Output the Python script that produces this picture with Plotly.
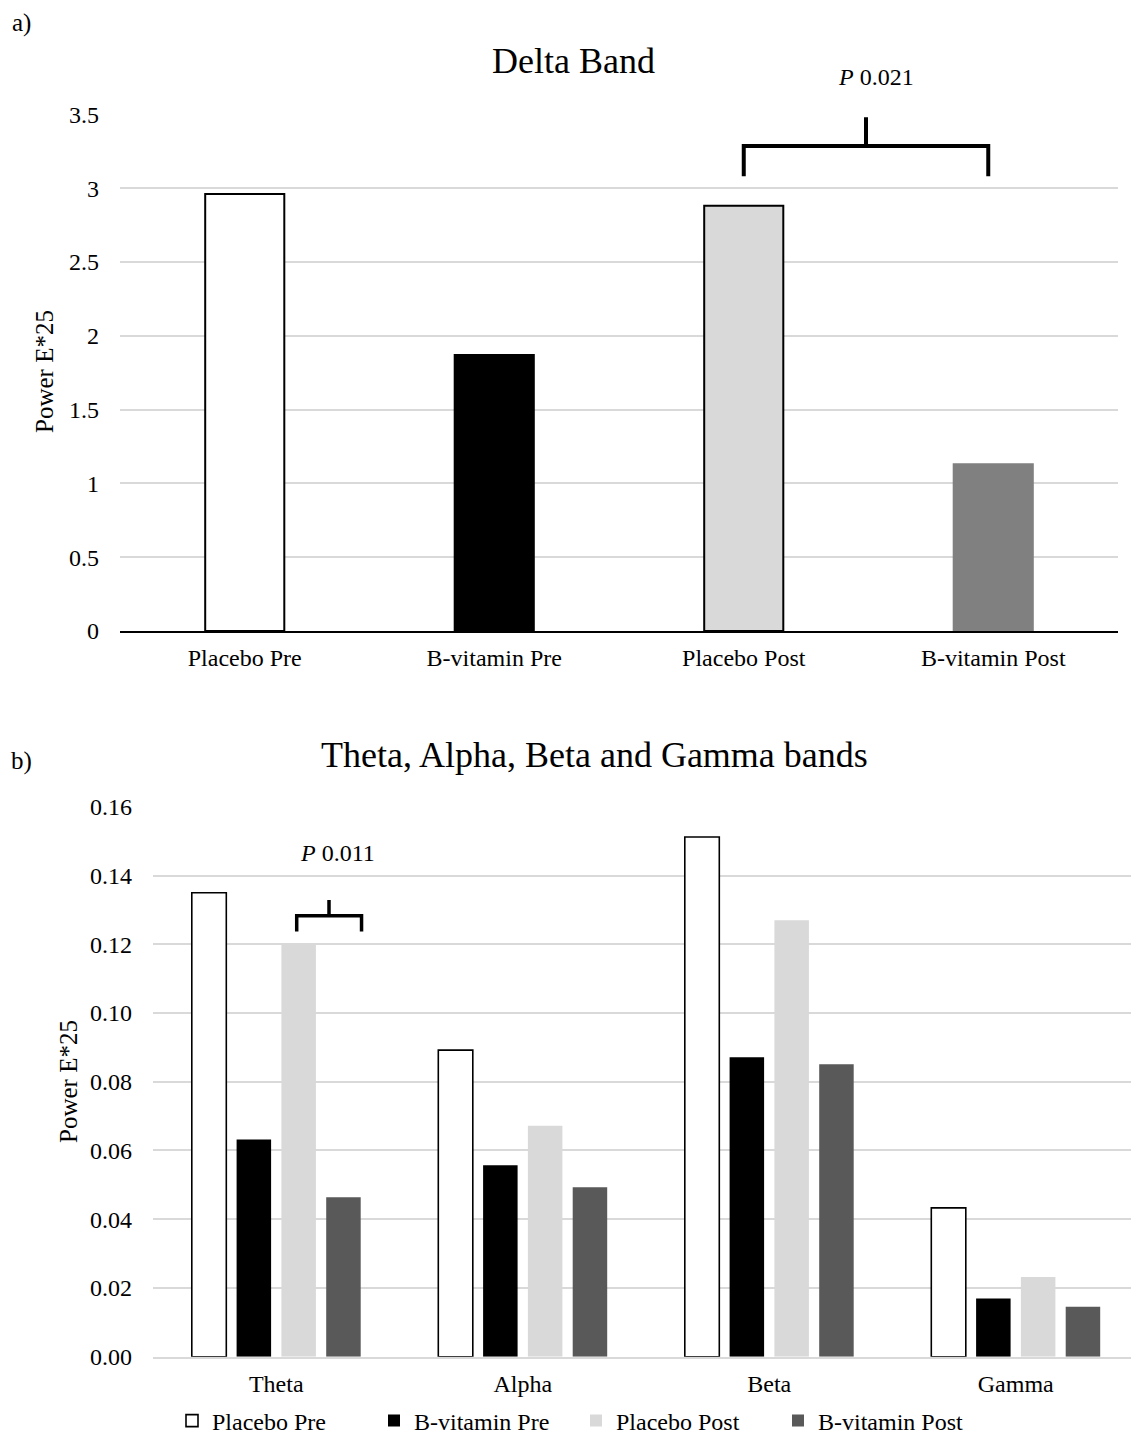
import plotly.graph_objects as go

# ---------------- data ----------------
delta_categories = ["Placebo Pre", "B-vitamin Pre", "Placebo Post", "B-vitamin Post"]
delta_values = [2.96, 1.87, 2.88, 1.13]

bands = ["Theta", "Alpha", "Beta", "Gamma"]
placebo_pre = [0.135, 0.0892, 0.1512, 0.0433]
bvit_pre = [0.0632, 0.0557, 0.0871, 0.0169]
placebo_post = [0.1201, 0.0672, 0.1270, 0.0232]
bvit_post = [0.0464, 0.0493, 0.0851, 0.0145]

series_names = ["Placebo Pre", "B-vitamin Pre", "Placebo Post", "B-vitamin Post"]

delta_ticks = [0, 0.5, 1, 1.5, 2, 2.5, 3, 3.5]
delta_ticktext = ["0", "0.5", "1", "1.5", "2", "2.5", "3", "3.5"]
band_ticks = [0, 0.02, 0.04, 0.06, 0.08, 0.10, 0.12, 0.14, 0.16]
band_ticktext = ["0.00", "0.02", "0.04", "0.06", "0.08", "0.10", "0.12", "0.14", "0.16"]

# significance brackets (category-index units, data units)
delta_bracket = dict(x0=2.0, x1=2.98, xm=2.49, y_bar=3.285, y_leg=3.08, y_stem=3.48,
                     label="<i>P</i> 0.021", lx=2.53, ly_px=76.7)
band_bracket = dict(x0=0.083, x1=0.346, xm=0.214, y_bar=0.1283, y_leg=0.1237, y_stem=0.1329,
                    label="<i>P</i> 0.011", lx=0.25, ly_px=853)

# ---------------- figure ----------------
# the page body has an 8 px margin, so the figure starts at (8, 8) in the window
OFF = 8
W, H = 1139 - OFF, 1438 - OFF
FONT = "Liberation Serif, Times New Roman, serif"
GRID = "#D9D9D9"

def px_x(p):
    return (p - OFF) / W

def px_y(p):
    return 1 - (p - OFF) / H

fig = go.Figure()

fig.add_trace(go.Bar(
    x=delta_categories, y=delta_values, xaxis="x", yaxis="y",
    width=0.317,
    marker=dict(color=["#FFFFFF", "#000000", "#D9D9D9", "#808080"],
                line=dict(color=["#000000", "#000000", "#000000", "#808080"], width=2)),
    showlegend=False, hoverinfo="x+y",
))

fills = ["#FFFFFF", "#000000", "#D9D9D9", "#595959"]
lines = ["#000000", "#000000", "#D9D9D9", "#595959"]
lws = [1.6, 0, 0, 0]
for name, vals, fc, lc, lw in zip(series_names, [placebo_pre, bvit_pre, placebo_post, bvit_post], fills, lines, lws):
    fig.add_trace(go.Bar(
        x=bands, y=vals, name=name, xaxis="x2", yaxis="y2",
        marker=dict(color=fc, line=dict(color=lc, width=lw)),
    ))

shapes = []
annotations = []
for b, xr, yr, lw in [(delta_bracket, "x", "y", 4), (band_bracket, "x2", "y2", 3.5)]:
    path = (f"M {b['x0']},{b['y_leg']} L {b['x0']},{b['y_bar']} L {b['x1']},{b['y_bar']} "
            f"L {b['x1']},{b['y_leg']} M {b['xm']},{b['y_bar']} L {b['xm']},{b['y_stem']}")
    shapes.append(dict(type="path", path=path, xref=xr, yref=yr,
                       line=dict(color="black", width=lw)))
    annotations.append(dict(text=b["label"], x=b["lx"], y=px_y(b["ly_px"]), xref=xr, yref="paper",
                            xanchor="center", yanchor="middle",
                            showarrow=False, font=dict(size=24, color="black", family=FONT)))

def label(text, x, y, size, angle=0):
    return dict(text=text, x=px_x(x), y=px_y(y), xref="paper", yref="paper",
                xanchor="center", yanchor="middle", textangle=angle,
                showarrow=False, font=dict(size=size, family=FONT, color="black"))

annotations += [
    label("Delta Band", 573, 61, 36),
    label("Theta, Alpha, Beta and Gamma bands", 594, 755, 36),
    label("a)", 21, 23, 25),
    label("b)", 21, 761, 25),
    label("Power E*25", 45, 372, 25, -90),
    label("Power E*25", 68, 1082, 25, -90),
]

tickfont = dict(size=24, family=FONT, color="black")

fig.update_layout(
    width=W, height=H,
    margin=dict(l=0, r=0, t=0, b=0, autoexpand=False),
    paper_bgcolor="white", plot_bgcolor="white",
    font=dict(family=FONT, color="black"),
    barmode="group", bargap=0.273, bargroupgap=0.23,
    shapes=shapes, annotations=annotations,
    xaxis=dict(domain=[px_x(120), px_x(1118)], anchor="y", showgrid=False, automargin=False,
               showline=True, linecolor="black", linewidth=2, ticks="",
               tickfont=tickfont, ticklabelstandoff=4, fixedrange=True),
    yaxis=dict(domain=[px_y(631), px_y(114.3)], anchor="x", range=[0, 3.5], automargin=False,
               tickvals=delta_ticks, ticktext=delta_ticktext, showgrid=True,
               gridcolor=GRID, gridwidth=1.5, zeroline=False, showline=False,
               tickfont=tickfont, ticklabelstandoff=20, fixedrange=True),
    xaxis2=dict(domain=[px_x(153), px_x(1139)], anchor="y2", showgrid=False, automargin=False,
                showline=True, linecolor=GRID, linewidth=2, ticks="",
                tickfont=tickfont, ticklabelstandoff=4, fixedrange=True),
    yaxis2=dict(domain=[px_y(1356.7), px_y(806.8)], anchor="x2", range=[0, 0.16], automargin=False,
                tickvals=band_ticks, ticktext=band_ticktext, showgrid=True,
                gridcolor=GRID, gridwidth=1.5, zeroline=False, showline=False,
                tickfont=tickfont, ticklabelstandoff=20, fixedrange=True),
    legend=dict(orientation="h", x=px_x(172), y=px_y(1421), xanchor="left", yanchor="middle",
                font=dict(size=24, family=FONT, color="black"), entrywidth=157,
                itemclick=False, itemdoubleclick=False, bgcolor="rgba(0,0,0,0)"),
)

fig.write_html("out.html")
